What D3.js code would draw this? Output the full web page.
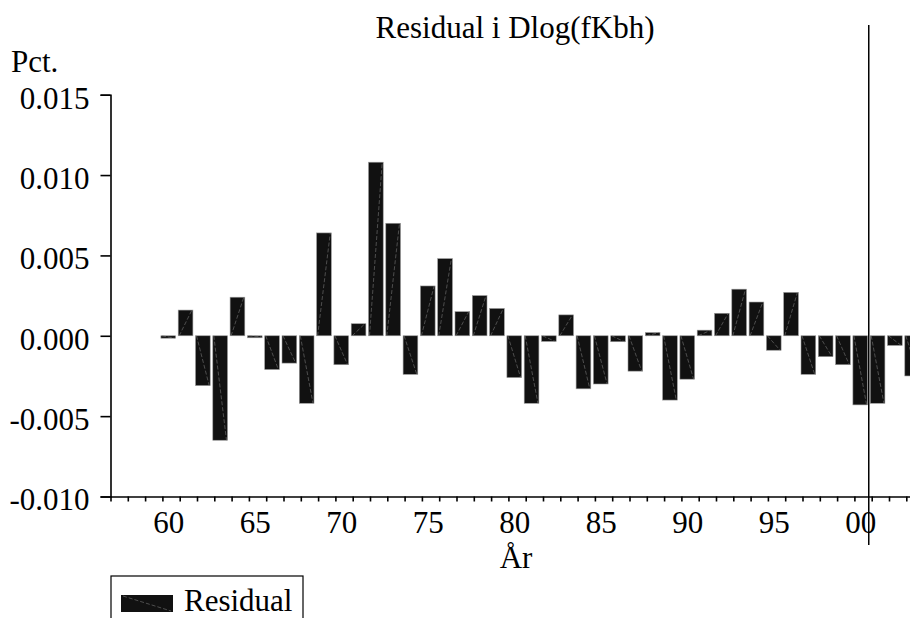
<!DOCTYPE html>
<html>
<head>
<meta charset="utf-8">
<script src="https://cdn.jsdelivr.net/npm/d3@7"></script>
<style>
  body { margin: 0; background: #fff; }
</style>
</head>
<body>
<div id="chart"></div>
<script>
// data
const years = d3.range(1960, 2004);
const residuals = [
  -0.00015, 0.0016, -0.0031, -0.0065, 0.0024, -0.00005, -0.0021, -0.0017, -0.0042, 0.0064,
  -0.0018, 0.00075, 0.0108, 0.0070, -0.0024, 0.0031, 0.0048, 0.0015, 0.0025, 0.0017,
  -0.0026, -0.0042, -0.00035, 0.0013, -0.0033, -0.0030, -0.00037, -0.0022, 0.0002, -0.0040,
  -0.0027, 0.00035, 0.0014, 0.0029, 0.0021, -0.0009, 0.0027, -0.0024, -0.0013, -0.0018,
  -0.0043, -0.0042, -0.0006, -0.0025
];
const yTicks = [-0.010, -0.005, 0.000, 0.005, 0.010, 0.015];
const labelYears = [1960, 1965, 1970, 1975, 1980, 1985, 1990, 1995, 2000];
const xDomain = [1957, 2004];
const markerYear = 2000.83;
const title = "Residual i Dlog(fKbh)";
const yUnit = "Pct.";
const xTitle = "År";
const seriesName = "Residual";

const width = 910, height = 618;
const plotLeft = 110.5, plotTop = 94.7, plotBottom = 496.5;
const yearPx = 17.3;
const fontSize = 31;
const serif = "'Liberation Serif', 'Times New Roman', Times, serif";

const svg = d3.select("#chart").append("svg")
    .attr("width", width)
    .attr("height", height);

let x = d3.scaleLinear().domain(xDomain)
    .range([plotLeft, plotLeft + (xDomain[1] - xDomain[0]) * yearPx]);
let y = d3.scaleLinear().domain([-0.010, 0.015]).range([plotBottom, plotTop]);

const step = x(1) - x(0);
const barW = step * 0.85;
const barOff = -1.5;

// bars
const bars = svg.append("g");
years.forEach((yr, i) => {
  const v = residuals[i];
  const x0 = x(yr) + barOff;
  const y0 = y(Math.max(0, v));
  const y1 = y(Math.min(0, v));
  bars.append("rect")
      .attr("x", x0)
      .attr("y", y0)
      .attr("width", barW)
      .attr("height", Math.max(y1 - y0, 2))
      .style("fill", "#111")
      .style("stroke", "#999")
      .style("stroke-width", 0.6);
  // diagonal hatch line
  bars.append("line")
      .attr("x1", x0 + 1)
      .attr("x2", x0 + barW - 1)
      .attr("y1", v >= 0 ? y1 : y0)
      .attr("y2", v >= 0 ? y0 : y1)
      .style("stroke", "#777")
      .style("stroke-width", 0.6)
      .style("stroke-dasharray", "4,2");
});

// y axis
const yAxis = svg.append("g")
    .attr("transform", `translate(${plotLeft},0)`)
    .call(d3.axisLeft(y).tickValues(yTicks).tickSize(10).tickPadding(11)
      .tickFormat(d => d.toFixed(3)));
yAxis.selectAll("text").attr("dy", "0.43em");

// x axis ticks
const xAxis = svg.append("g")
    .attr("transform", `translate(0,${plotBottom})`)
    .call(d3.axisBottom(x).tickValues(d3.range(xDomain[0], xDomain[1] + 1))
      .tickSize(5).tickSizeOuter(0).tickFormat(""));

// x axis labels, centred on the bars
const xLabels = svg.append("g")
    .attr("transform", `translate(${barOff + barW / 2},${plotBottom})`)
    .call(d3.axisBottom(x).tickValues(labelYears).tickSize(5).tickPadding(9)
      .tickFormat(d => String(d % 100).padStart(2, "0")));
xLabels.select(".domain").remove();
xLabels.selectAll("line").remove();

svg.selectAll(".domain, .tick line")
    .style("stroke", "#000")
    .style("stroke-width", 1.6);

// vertical marker line
svg.append("line")
    .attr("x1", x(markerYear)).attr("x2", x(markerYear))
    .attr("y1", 25).attr("y2", 545)
    .style("stroke", "#000")
    .style("stroke-width", 1.5);

const mid = (x.range()[0] + x.range()[1]) / 2;

// titles
svg.append("text")
    .attr("x", mid - 2).attr("y", 38)
    .attr("text-anchor", "middle")
    .text(title);

svg.append("text")
    .attr("x", 11).attr("y", 72)
    .text(yUnit);

svg.append("text")
    .attr("x", mid - 1).attr("y", 568)
    .attr("text-anchor", "middle")
    .text(xTitle);

// legend
const legend = svg.append("g");
legend.append("rect")
    .attr("x", 111).attr("y", 576)
    .attr("width", 192).attr("height", 60)
    .style("fill", "none")
    .style("stroke", "#000")
    .style("stroke-width", 1.2);
legend.append("rect")
    .attr("x", 121).attr("y", 595)
    .attr("width", 52).attr("height", 17)
    .style("fill", "#111");
legend.append("line")
    .attr("x1", 123).attr("y1", 596)
    .attr("x2", 171).attr("y2", 611)
    .style("stroke", "#777")
    .style("stroke-width", 0.6)
    .style("stroke-dasharray", "4,2");
legend.append("text")
    .attr("x", 184).attr("y", 611)
    .text(seriesName);

svg.selectAll("text")
    .style("font-family", serif)
    .style("font-size", fontSize + "px")
    .style("fill", "#000");
</script>
</body>
</html>
